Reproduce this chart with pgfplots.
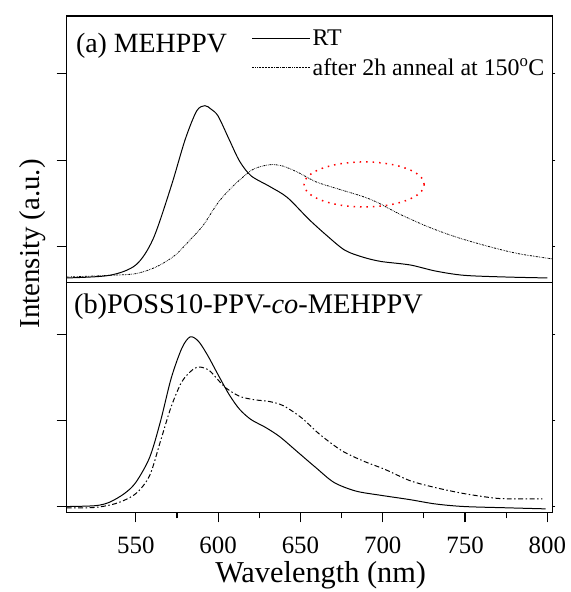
\documentclass[border=0pt]{standalone}
\usepackage{fontspec}
\setmainfont{Liberation Serif}
\usepackage{pgfplots}
\pgfplotsset{compat=1.18}
\pgfplotsset{
  common/.style={
    scale only axis, width=488pt, xmin=508, xmax=803,
    axis line style={line width=1.2pt},
    every tick/.style={line width=1.1pt, black},
    tick align=outside, major tick length=10pt, minor tick length=6pt,
    ytick={0,1,2}, yticklabels={}, ytick pos=left,
    extra y ticks={0,1,2}, extra y tick labels={},
    extra y tick style={ytick pos=right, major tick length=3pt},
    /pgf/number format/assume math mode=true,
    tick label style={font=\fontsize{25}{30}\selectfont},
  },
  annealtop/.style={line width=0.8pt, dash pattern=on 2pt off 1pt on 0.6pt off 1pt on 0.6pt off 1pt},
  annealbot/.style={line width=1pt, dash pattern=on 5pt off 2.5pt on 1.5pt off 2.5pt},
}
\begin{document}
\begin{tikzpicture}
\path (0pt,0pt) rectangle (573pt,-592pt);
\begin{axis}[common, at={(67pt,-16pt)}, anchor=north west, height=268pt,
  ymin=-0.414, ymax=2.667, xtick=\empty,
  legend style={at={(0.375,0.965)}, anchor=north west, draw=none, fill=none,
    font=\fontsize{24}{28}\selectfont, cells={anchor=west}, row sep=8pt},
  legend image code/.code={\draw[#1] (0pt,0pt) -- (58pt,0pt);}]
\addplot[black, line width=1pt, smooth] coordinates {
(508,-0.36) (534,-0.33) (550,-0.21) (560.5,0.09) (571.5,0.70) (580,1.24) (587,1.57) (592,1.63) (595.7,1.59) (600,1.51) (606.7,1.24) (613,0.99) (620,0.82) (631,0.70) (642,0.57) (655,0.32) (666,0.13) (677,-0.04) (688,-0.12) (699,-0.17) (716.6,-0.21) (732,-0.28) (749.5,-0.33) (776,-0.35) (800,-0.36)};
\addlegendentry{RT}
\addplot[black, annealtop, smooth] coordinates {
(508,-0.35) (534,-0.33) (550,-0.31) (562.7,-0.23) (573.7,-0.10) (582.5,0.07) (591,0.25) (600,0.51) (609,0.70) (620,0.88) (626.5,0.93) (633,0.95) (639.7,0.93) (648.5,0.86) (659.5,0.75) (672.6,0.67) (688,0.58) (697,0.51) (710,0.38) (727.6,0.23) (745,0.11) (765,0.00) (782.5,-0.08) (803,-0.14)};
\addlegendentry{after 2h anneal at 150\textsuperscript{o}C}
\draw[red, line width=1.5pt, dash pattern=on 1.5pt off 5pt] (axis cs:688.7,0.72) ellipse [x radius=36.5, y radius=0.26];
\node[anchor=base west, font=\fontsize{28}{33}\selectfont] at (rel axis cs:0.012,0.862) {(a) MEHPPV};
\end{axis}
\begin{axis}[common, at={(67pt,-284pt)}, anchor=north west, height=231pt,
  ymin=-0.069, ymax=2.60,
  xtick={550,600,650,700,750,800}, minor x tick num=1, xtick pos=bottom,
  xticklabel style={yshift=-11pt},
  xlabel={Wavelength (nm)}, ylabel={Intensity (a.u.)},
  xlabel style={font=\fontsize{30.5}{35}\selectfont, at={(axis description cs:0.523,0)}, anchor=base, yshift=-70pt},
  ylabel style={font=\fontsize{29}{34}\selectfont, at={(axis description cs:-0.055,1.169)}, anchor=base, rotate=0}]
\addplot[black, line width=1pt, smooth] coordinates {
(508,0.0) (525.4,0.01) (534,0.05) (543,0.15) (550,0.28) (558.4,0.57) (565,0.99) (571.5,1.49) (578,1.84) (583,1.97) (588,1.92) (593.5,1.76) (600,1.53) (606.7,1.30) (613,1.13) (620,1.01) (628.7,0.92) (637.5,0.81) (648.5,0.63) (659.5,0.45) (670.4,0.28) (683.6,0.18) (699,0.13) (716.6,0.08) (732,0.03) (749.5,0.0) (776,-0.015) (799,-0.027)};
\addplot[black, annealbot, smooth] coordinates {
(508,-0.015) (525.4,-0.01) (538.6,0.04) (550,0.15) (558.4,0.36) (565,0.76) (571.5,1.16) (578,1.45) (584.6,1.59) (589,1.62) (594.6,1.58) (600,1.47) (604.5,1.38) (613,1.28) (622,1.24) (631,1.22) (639.7,1.17) (650.7,1.03) (661.6,0.84) (675,0.65) (688,0.53) (701.5,0.43) (716.6,0.30) (732,0.22) (749.5,0.15) (767,0.10) (776,0.09) (797,0.09)};
\node[anchor=base west, font=\fontsize{28.5}{33}\selectfont] at (rel axis cs:0.008,0.866) {(b)POSS10-PPV-\textit{co}-MEHPPV};
\end{axis}
\end{tikzpicture}
\end{document}
